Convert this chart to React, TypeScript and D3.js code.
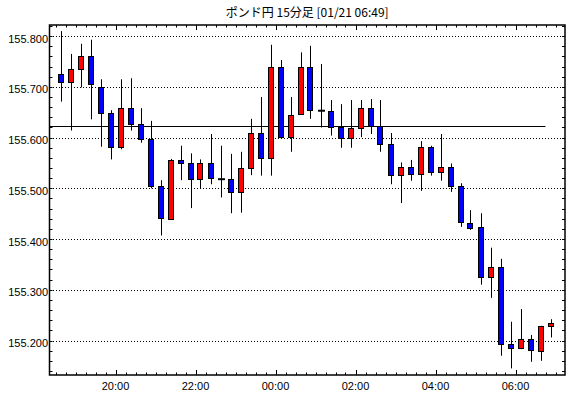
import * as d3 from "d3";

// ポンド円 15分足, 01/20 18:30 - 01/21 06:45
const startTime = new Date(2025, 0, 20, 18, 30);

const opens = [
  155.726, 155.709, 155.735, 155.76, 155.699, 155.648, 155.581, 155.658, 155.626, 155.597,
  155.505, 155.44, 155.555, 155.549, 155.518, 155.549, 155.518, 155.518, 155.492, 155.54,
  155.609, 155.559, 155.739, 155.602, 155.646, 155.739, 155.653, 155.652, 155.62, 155.599,
  155.618, 155.658, 155.622, 155.587, 155.526, 155.542, 155.528, 155.581, 155.533, 155.543,
  155.505, 155.431, 155.423, 155.325, 155.344, 155.193, 155.185, 155.202, 155.179, 155.229,
];
const highs = [
  155.81, 155.765, 155.785, 155.793, 155.715, 155.654, 155.715, 155.717, 155.658, 155.633,
  155.516, 155.558, 155.584, 155.569, 155.557, 155.607, 155.584, 155.568, 155.572, 155.637,
  155.68, 155.783, 155.753, 155.68, 155.768, 155.781, 155.745, 155.674, 155.666, 155.674,
  155.674, 155.676, 155.674, 155.609, 155.551, 155.556, 155.593, 155.584, 155.607, 155.549,
  155.51, 155.457, 155.451, 155.383, 155.361, 155.237, 155.262, 155.211, 155.229, 155.242,
];
const lows = [
  155.671, 155.614, 155.699, 155.636, 155.582, 155.557, 155.577, 155.614, 155.59, 155.5,
  155.407, 155.438, 155.516, 155.461, 155.5, 155.508, 155.482, 155.451, 155.452, 155.526,
  155.525, 155.525, 155.602, 155.572, 155.646, 155.637, 155.62, 155.604, 155.58, 155.58,
  155.601, 155.607, 155.572, 155.508, 155.471, 155.515, 155.495, 155.525, 155.515, 155.493,
  155.424, 155.418, 155.31, 155.284, 155.17, 155.145, 155.183, 155.158, 155.16, 155.206,
];
const closes = [
  155.709, 155.735, 155.76, 155.706, 155.648, 155.581, 155.658, 155.626, 155.597, 155.505,
  155.441, 155.556, 155.549, 155.518, 155.549, 155.52, 155.518, 155.492, 155.54, 155.609,
  155.559, 155.739, 155.602, 155.644, 155.739, 155.654, 155.653, 155.62, 155.599, 155.618,
  155.658, 155.623, 155.587, 155.526, 155.542, 155.528, 155.581, 155.533, 155.543, 155.505,
  155.433, 155.422, 155.325, 155.344, 155.193, 155.185, 155.202, 155.181, 155.229, 155.234,
];

const refPrice = 155.622;
const refEnd = new Date(2025, 0, 21, 6, 45);
const title = "ポンド円 15分足 [01/21 06:49]";

const W = 570;
const H = 398;
const margin = { top: 25, right: 5, bottom: 23, left: 49.5 };

export default function App() {
  const times = opens.map((_, i) => d3.timeMinute.offset(startTime, 15 * i));

  const x = d3
    .scaleTime()
    .domain([new Date(2025, 0, 20, 18, 21), new Date(2025, 0, 21, 7, 14, 15)])
    .range([margin.left, W - margin.right]);
  const y = d3
    .scaleLinear()
    .domain([155.132, 155.822])
    .range([H - margin.bottom, margin.top]);

  const x0 = margin.left;
  const x1 = W - margin.right;
  const y0 = H - margin.bottom;
  const y1 = margin.top;

  const xTicks = d3.timeMinute.every(15)!.range(x.domain()[0], x.domain()[1]);
  const isMajor = (t: Date) => t.getMinutes() === 0 && t.getHours() % 2 === 0;
  const fmt = d3.timeFormat("%H:%M");
  const yMinor = y.ticks(35);
  const yMajor = y.ticks(7);

  const half = 7.5 * 60 * 1000;
  const font = "'Liberation Sans', Arial, sans-serif";

  return (
    <svg
      width={W}
      height={H}
      style={{ position: "absolute", left: 0, top: 0, background: "#fff" }}
    >
      <text
        x={(x0 + x1) / 2}
        y={17}
        textAnchor="middle"
        fontSize={12}
        fontFamily="'Noto Sans CJK JP', sans-serif"
        fill="#000"
      >
        {title}
      </text>

      {/* grid (dotted) */}
      {yMajor.map((v) => (
        <line
          key={"g" + v}
          x1={Math.ceil(x0)}
          x2={x1}
          y1={Math.round(y(v)) + 0.5}
          y2={Math.round(y(v)) + 0.5}
          stroke="#000"
          strokeDasharray="1,2"
          shapeRendering="crispEdges"
        />
      ))}

      {/* y ticks, both sides */}
      {yMinor.map((v) => {
        const yy = Math.round(y(v)) + 0.5;
        return (
          <g key={"yt" + v}>
            <line x1={x0} x2={x0 + 3} y1={yy} y2={yy} stroke="#000" />
            <line x1={x1 - 3} x2={x1} y1={yy} y2={yy} stroke="#000" />
          </g>
        );
      })}
      {yMajor.map((v) => (
        <text
          key={"yl" + v}
          x={x0 - 1.5}
          y={y(v) + 6.5}
          textAnchor="end"
          fontSize={11}
          fontFamily={font}
          fill="#000"
        >
          {v.toFixed(3)}
        </text>
      ))}

      {/* x ticks, top and bottom */}
      {xTicks.map((t) => {
        const xx = Math.round(x(t)) + 0.5;
        const len = isMajor(t) ? 5 : 2.5;
        return (
          <g key={"xt" + t.getTime()}>
            <line x1={xx} x2={xx} y1={y1} y2={y1 + len} stroke="#000" />
            <line x1={xx} x2={xx} y1={y0} y2={y0 - len} stroke="#000" />
          </g>
        );
      })}
      {xTicks.filter(isMajor).map((t) => (
        <text
          key={"xl" + t.getTime()}
          x={x(t)}
          y={390}
          textAnchor="middle"
          fontSize={11}
          fontFamily={font}
          fill="#000"
        >
          {fmt(t)}
        </text>
      ))}

      {/* reference line */}
      <line
        x1={x0}
        x2={x(refEnd)}
        y1={Math.round(y(refPrice)) + 0.5}
        y2={Math.round(y(refPrice)) + 0.5}
        stroke="#000"
      />

      {/* candles */}
      {times.map((t, i) => {
        const cx = Math.round(x(new Date(t.getTime() + half))) + 0.5;
        const o = opens[i];
        const c = closes[i];
        const top = y(Math.max(o, c));
        const bot = y(Math.min(o, c));
        const fill = c > o ? "#ff0000" : c < o ? "#0000ff" : "#000";
        return (
          <g key={"c" + i}>
            <line x1={cx} x2={cx} y1={y(highs[i])} y2={y(lows[i])} stroke="#000" />
            {c === o ? (
              <line x1={cx - 3.5} x2={cx + 3.5} y1={top} y2={top} stroke="#000" strokeWidth={2} />
            ) : (
              <rect
                x={cx - 3}
                y={Math.round(top) + 0.5}
                width={5}
                height={Math.max(1, Math.round(bot) - Math.round(top))}
                fill={fill}
                stroke="#000"
                strokeWidth={1}
              />
            )}
          </g>
        );
      })}

      {/* frame */}
      <rect
        x={x0}
        y={y1}
        width={x1 - x0}
        height={y0 - y1}
        fill="none"
        stroke="#000"
        strokeWidth={1.5}
      />
    </svg>
  );
}
